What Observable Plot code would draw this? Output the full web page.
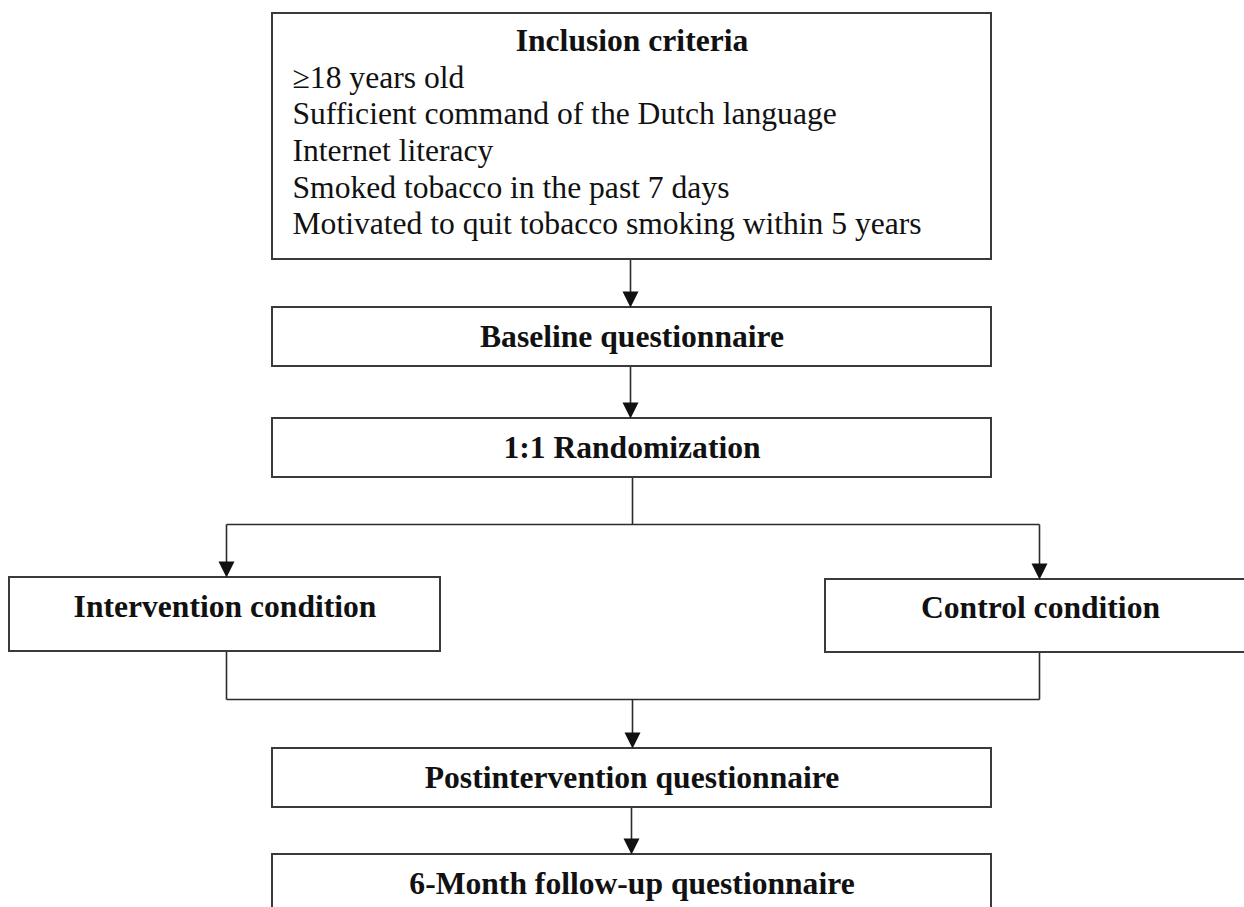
<!DOCTYPE html>
<html>
<head>
<meta charset="utf-8">
<script src="https://cdn.jsdelivr.net/npm/d3@7"></script>
<script src="https://cdn.jsdelivr.net/npm/@observablehq/plot@0.6"></script>
<style>
  html, body { margin: 0; padding: 0; background: #ffffff; }
  #chart svg { display: block; }
</style>
</head>
<body>
<div id="chart"></div>
<script>
// ---- content ----
const criteriaTitle = ["Inclusion criteria"];
const criteriaItems = [
  "\u226518 years old",
  "Sufficient command of the Dutch language",
  "Internet literacy",
  "Smoked tobacco in the past 7 days",
  "Motivated to quit tobacco smoking within 5 years"
];
const stepLabels = [
  "Baseline questionnaire",
  "1:1 Randomization",
  "Intervention condition",
  "Control condition",
  "Postintervention questionnaire",
  "6-Month follow-up questionnaire"
];

// ---- layout (pixel coordinates of the flow diagram) ----
const W = 1244, H = 907;
const boxLeft   = [272, 272, 272, 9,   825,  272, 272];
const boxRight  = [991, 991, 991, 440, 1262, 991, 991];
const boxTop    = [13,  307, 418, 577, 579,  748, 854];
const boxBottom = [259, 366, 477, 651, 652,  807, 940];
const boxes = boxLeft.map((x1, i) => ({x1, x2: boxRight[i], y1: boxTop[i], y2: boxBottom[i]}));

const stepX = [631.5, 631.5, 224.5, 1040, 631.5, 631.5];
const stepY = [336.5, 447.5, 606, 607, 777.5, 883];
const steps = stepLabels.map((label, i) => ({label, x: stepX[i], y: stepY[i]}));

const titleRows = criteriaTitle.map(label => ({label, x: 631.5, y: 40}));
const itemY = [77, 113.7, 150.4, 187.1, 223.8];
const itemRows = criteriaItems.map((label, i) => ({label, x: 292, y: itemY[i]}));

// connector segments
const segX1 = [630, 630, 632, 226,  226, 1039, 226, 1039, 226,  632, 631];
const segY1 = [259, 366, 477, 524,  524, 524,  651, 652,  699,  699, 807];
const segX2 = [630, 630, 632, 1039, 226, 1039, 226, 1039, 1039, 632, 631];
const segY2 = [300, 411, 524, 524,  570, 572,  699, 699,  699,  741, 847];
const segs = segX1.map((x1, i) => ({x1, y1: segY1[i], x2: segX2[i], y2: segY2[i]}));

// arrow heads (tip positions)
const tipX = [630, 630, 226, 1039, 632, 631];
const tipY = [307, 418, 577, 579,  748, 854];
const tips = tipX.map((x, i) => ({x, y: tipY[i]}));

const arrowHead = {
  draw(context) {
    context.moveTo(0, 0);
    context.lineTo(-8, -16);
    context.lineTo(8, -16);
    context.closePath();
  }
};

const font = "'Liberation Serif', 'Times New Roman', Times, serif";
const fs = 31.6;

const chart = Plot.plot({
  width: W,
  height: H,
  margin: 0,
  x: {domain: [0, W], range: [0, W], axis: null},
  y: {domain: [0, H], range: [0, H], axis: null},
  style: {background: "#ffffff", fontFamily: font},
  marks: [
    Plot.link(segs, {x1: "x1", y1: "y1", x2: "x2", y2: "y2", stroke: "#2b2b2b", strokeWidth: 1.6}),
    Plot.rect(boxes, {x1: "x1", x2: "x2", y1: "y1", y2: "y2", fill: "#ffffff", stroke: "#3a3a3a", strokeWidth: 2}),
    Plot.dot(tips, {x: "x", y: "y", symbol: arrowHead, fill: "#111111", stroke: "none", r: 5}),
    Plot.text(titleRows, {x: "x", y: "y", text: "label", textAnchor: "middle", lineAnchor: "middle", fontSize: fs, fontWeight: "bold", fill: "#111111"}),
    Plot.text(itemRows, {x: "x", y: "y", text: "label", textAnchor: "start", lineAnchor: "middle", fontSize: fs, fill: "#111111"}),
    Plot.text(steps, {x: "x", y: "y", text: "label", textAnchor: "middle", lineAnchor: "middle", fontSize: fs, fontWeight: "bold", fill: "#111111"})
  ]
});
document.getElementById("chart").appendChild(chart);
</script>
</body>
</html>
